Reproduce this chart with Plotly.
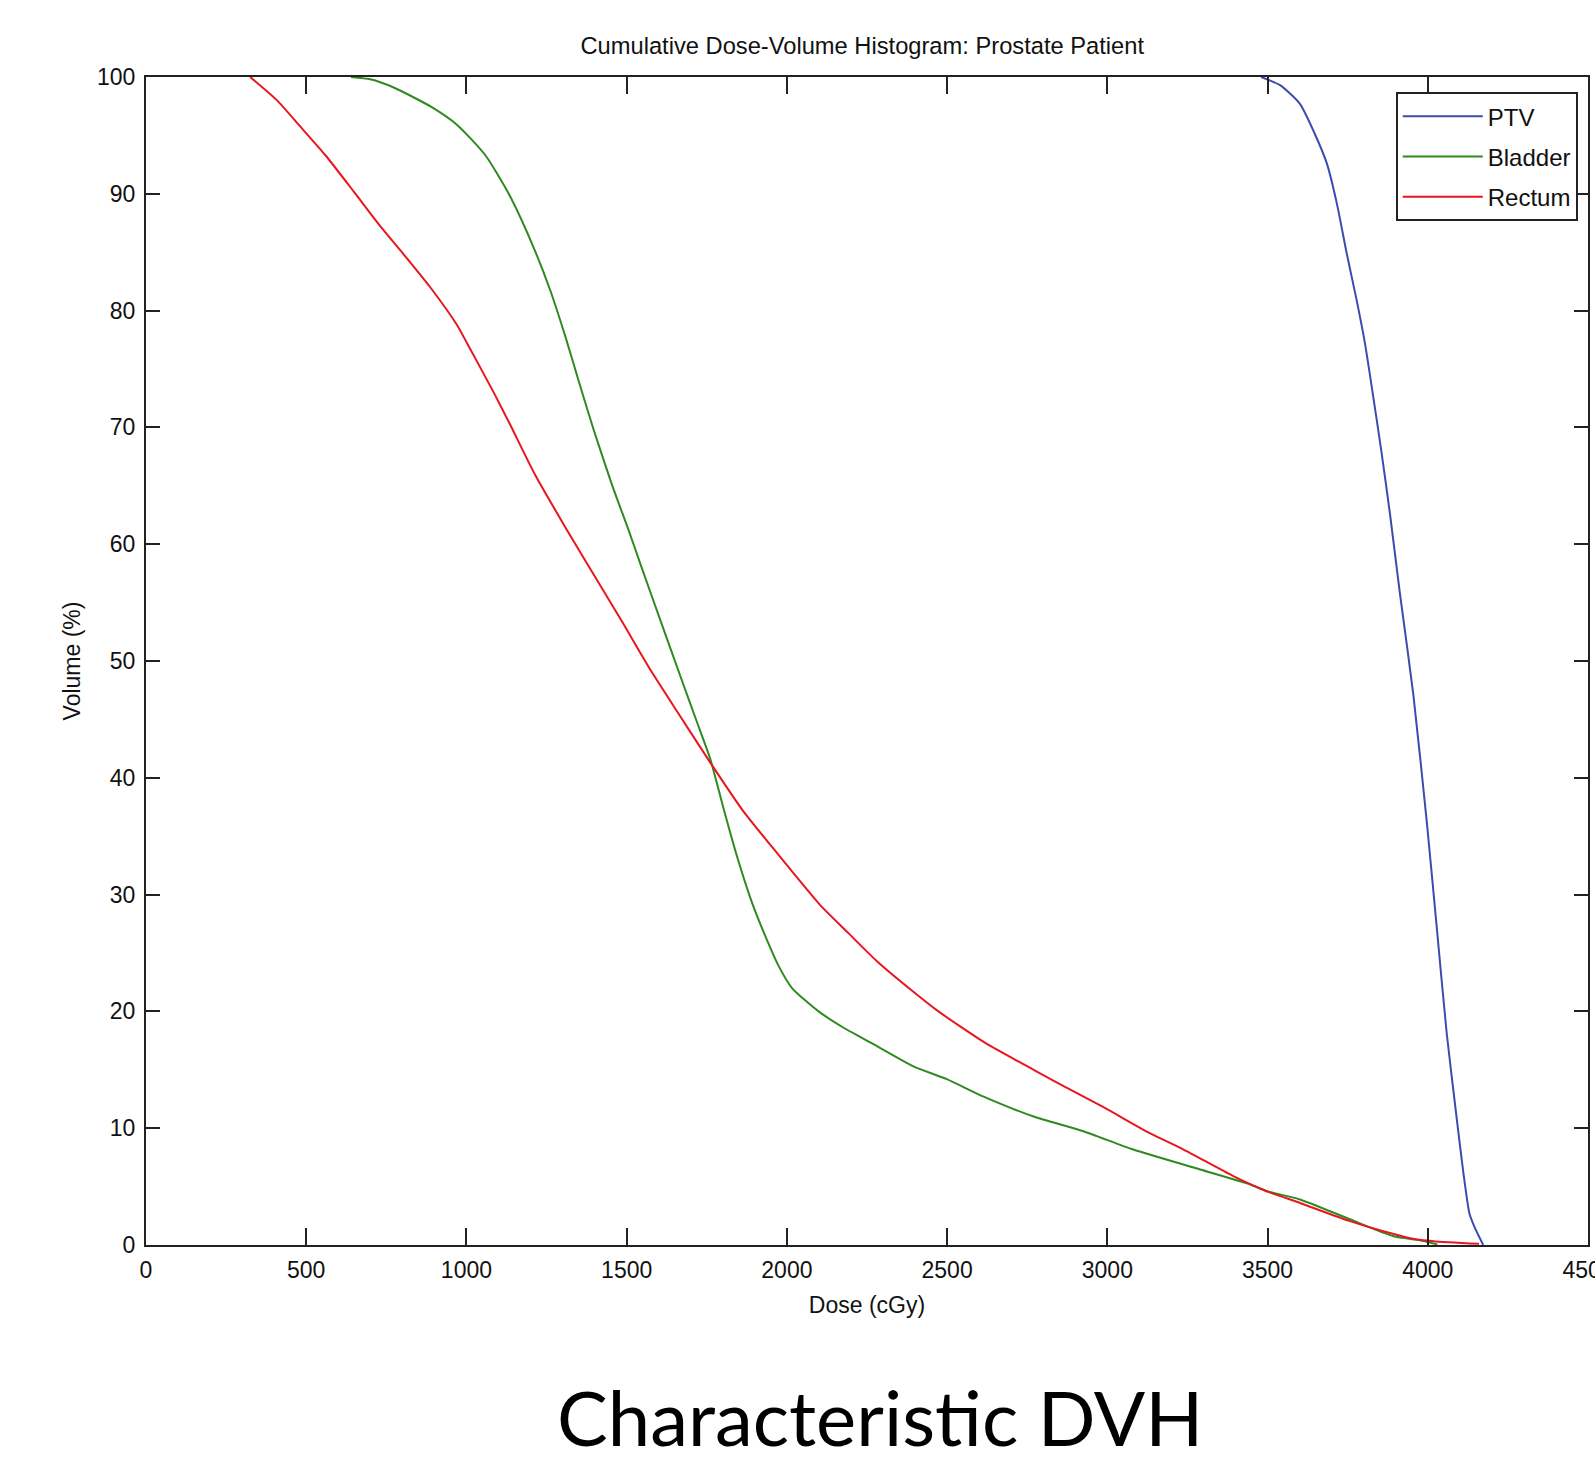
import plotly.graph_objects as go

# ---- data ----
ptv_dose = [3480, 3539, 3601, 3648, 3685, 3716, 3747, 3778, 3804, 3830, 3856, 3882,
            3913, 3955, 3997, 4028, 4059, 4090, 4111, 4130, 4145, 4173]
ptv_vol = [100, 99.3, 97.7, 95.1, 92.6, 89.2, 84.9, 80.9, 77.2, 72.6, 67.8, 62.6,
           55.8, 47.1, 36.2, 27.2, 18.15, 10.9, 6.2, 2.7, 1.6, 0]

bladder_dose = [640, 700, 773, 893, 971, 1059, 1132, 1205, 1262, 1309, 1350, 1397,
                1454, 1506, 1543, 1605, 1678, 1719, 1761, 1803, 1844, 1890, 1938,
                1974, 2016, 2099, 2177, 2270, 2395, 2499, 2614, 2770, 2925, 3081,
                3290, 3446, 3498, 3601, 3757, 3893, 3976, 4030]
bladder_vol = [100, 99.8, 99.1, 97.4, 95.9, 93.3, 90.0, 85.7, 81.7, 77.75, 74.0, 69.8,
               65.1, 61.2, 58.3, 53.5, 47.9, 44.8, 41.6, 37.3, 33.3, 29.4, 26.1,
               23.9, 22.0, 20.0, 18.6, 17.2, 15.3, 14.2, 12.7, 11.0, 9.74, 8.17,
               6.46, 5.18, 4.6, 3.9, 2.2, 0.75, 0.41, 0.05]

rectum_dose = [325, 409, 477, 560, 648, 726, 815, 887, 971, 1002, 1085, 1137, 1215,
               1314, 1397, 1485, 1574, 1657, 1761, 1865, 1953, 2104, 2192, 2281,
               2385, 2473, 2619, 2770, 2874, 2988, 3134, 3238, 3393, 3498, 3601,
               3757, 3861, 3966, 4017, 4160]
rectum_vol = [100, 98.0, 95.9, 93.3, 90.2, 87.4, 84.45, 82.0, 78.75, 77.2, 73.0, 70.2,
              65.9, 61.2, 57.4, 53.4, 49.25, 45.7, 41.3, 37.1, 34.1, 29.1, 26.7, 24.3,
              21.9, 20.0, 17.3, 15.0, 13.45, 11.8, 9.55, 8.17, 5.9, 4.6, 3.6,
              2.04, 1.18, 0.47, 0.33, 0.1]

x_ticks = [0, 500, 1000, 1500, 2000, 2500, 3000, 3500, 4000, 4500]
y_ticks = [0, 10, 20, 30, 40, 50, 60, 70, 80, 90, 100]

series = [
    ("PTV", ptv_dose, ptv_vol, "#3a4cae"),
    ("Bladder", bladder_dose, bladder_vol, "#2f8a1f"),
    ("Rectum", rectum_dose, rectum_vol, "#e8161e"),
]

FONT = "Liberation Sans, Arial, sans-serif"
AX = "#222222"
TXT = "#111111"

fig = go.Figure()
for name, xs, ys, col in series:
    fig.add_trace(go.Scatter(x=xs, y=ys, mode="lines", name=name, legendgroup=name,
                             line=dict(color=col, width=2, shape="spline", smoothing=0.6)))

fig.update_layout(
    width=1595, height=1468,
    margin=dict(l=146, r=7, t=77, b=223),
    paper_bgcolor="white", plot_bgcolor="white",
    font=dict(family=FONT, size=23, color=TXT),
    title=dict(text="Cumulative Dose-Volume Histogram: Prostate Patient",
               x=0.5406, xanchor="center", y=1 - 46 / 1468, yanchor="middle",
               yref="container", font=dict(family=FONT, size=23.7, color=TXT)),
    showlegend=True,
    legend=dict(x=0.9929, xanchor="right", y=0.987, yanchor="top",
                bgcolor="white", bordercolor=AX, borderwidth=2,
                font=dict(family=FONT, size=24, color=TXT),
                itemwidth=80, tracegroupgap=6),
)

fig.update_xaxes(range=[0, 4500], tickvals=x_ticks, ticktext=[str(v) for v in x_ticks],
                 showline=True, linecolor=AX, linewidth=2, mirror="ticks",
                 ticks="inside", ticklen=17, tickwidth=2, tickcolor=AX,
                 showgrid=False, zeroline=False, automargin=False,
                 ticklabeloverflow="allow", ticklabelstandoff=3,
                 tickfont=dict(family=FONT, size=23, color=TXT),
                 title=dict(text="Dose (cGy)", standoff=15,
                            font=dict(family=FONT, size=23, color=TXT)))
fig.update_yaxes(range=[0, 100], tickvals=y_ticks, ticktext=[str(v) for v in y_ticks],
                 showline=True, linecolor=AX, linewidth=2, mirror="ticks",
                 ticks="inside", ticklen=14, tickwidth=2, tickcolor=AX,
                 showgrid=False, zeroline=False, automargin=False,
                 ticklabelstandoff=4,
                 tickfont=dict(family=FONT, size=23, color=TXT),
                 title=dict(text="Volume (%)", standoff=10,
                            font=dict(family=FONT, size=23, color=TXT)))

fig.add_annotation(text="Characteristic DVH", xref="paper", yref="paper",
                   x=0.509, y=-0.147, xanchor="center", yanchor="middle",
                   showarrow=False,
                   font=dict(family="Lato, Open Sans, sans-serif", size=76, color="black"))

fig.write_html("out.html", config={"displayModeBar": False},
               post_script="document.body.style.margin='0px';document.body.style.padding='0px';")
